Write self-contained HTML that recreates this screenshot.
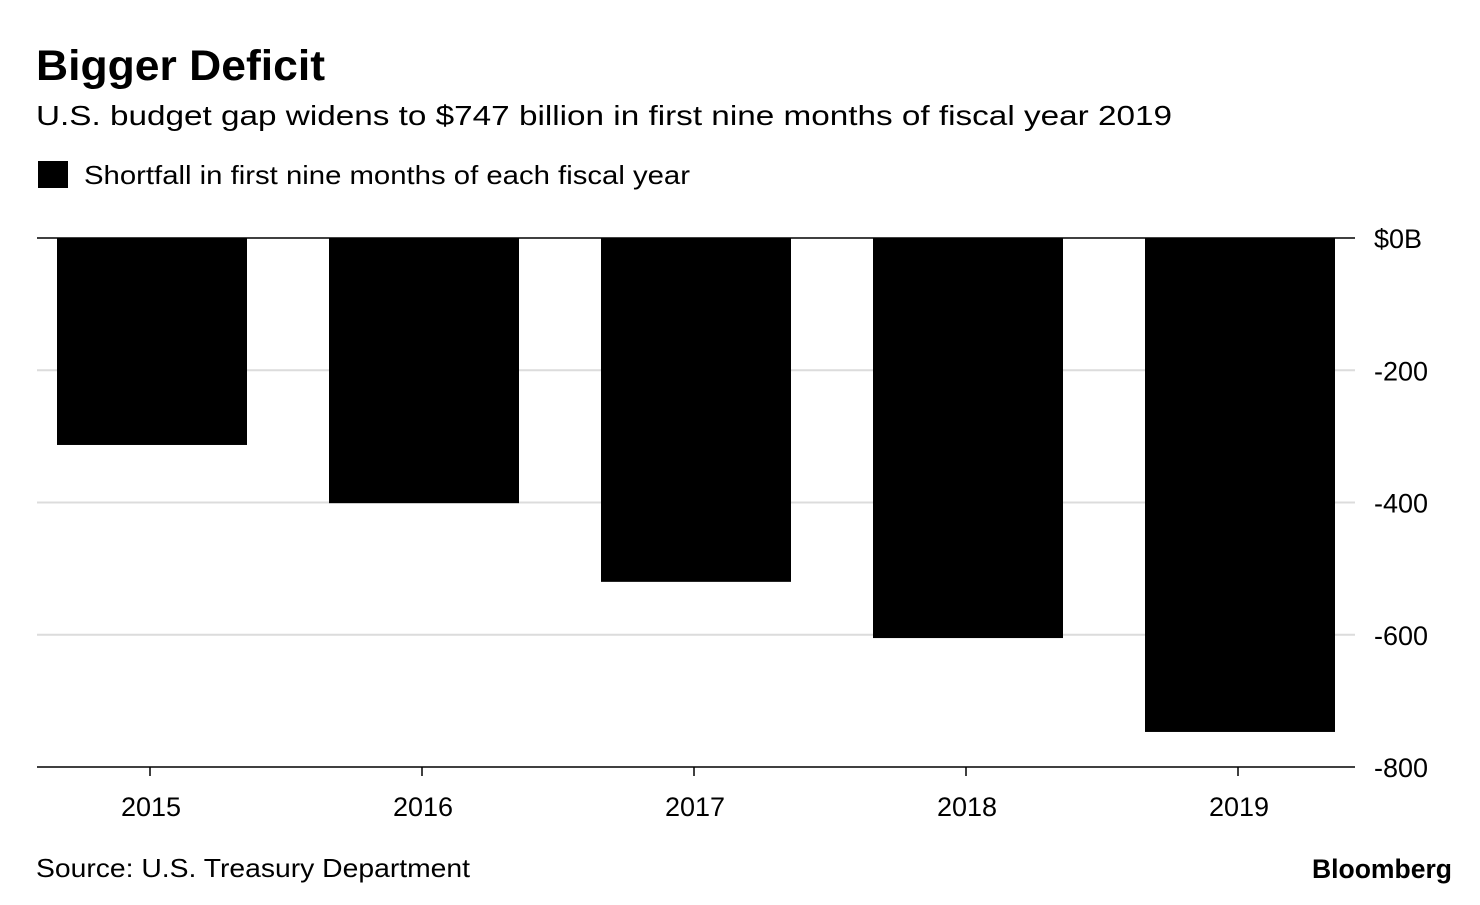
<!DOCTYPE html>
<html><head><meta charset="utf-8"><style>
body{margin:0;background:#fff;width:1480px;height:900px;overflow:hidden;font-family:"Liberation Sans",sans-serif;}
</style></head><body>
<svg width="1480" height="900" xmlns="http://www.w3.org/2000/svg">
<text x="36" y="80" font-size="43" font-weight="bold" fill="#000" textLength="289" lengthAdjust="spacingAndGlyphs">Bigger Deficit</text>
<text x="36" y="125" font-size="28" fill="#000" textLength="1136" lengthAdjust="spacingAndGlyphs">U.S. budget gap widens to $747 billion in first nine months of fiscal year 2019</text>
<rect x="38" y="161" width="30" height="27" fill="#000"/>
<text x="84" y="184" font-size="26" fill="#000" textLength="606" lengthAdjust="spacingAndGlyphs">Shortfall in first nine months of each fiscal year</text>
<g id="grid"></g><g id="bars"></g><g id="axes"></g>
<text x="36" y="877" font-size="26" fill="#000" textLength="434" lengthAdjust="spacingAndGlyphs">Source: U.S. Treasury Department</text>
<text x="1312" y="878" font-size="27" font-weight="bold" fill="#000" textLength="140" lengthAdjust="spacingAndGlyphs">Bloomberg</text>
</svg>
<script>
const categories=["2015","2016","2017","2018","2019"];
const values=[-313,-401,-520,-605,-747];
const yTicks=[0,-200,-400,-600,-800];
const yTickLabels=["$0B","-200","-400","-600","-800"];
const NS="http://www.w3.org/2000/svg";
const y0=238,y1=767,left=37,right=1355;
function yScale(v){return y0+(0-v)/800*(y1-y0);}
function xCenter(i){return 152+i*272;}
const barW=190;
function mk(tag,attrs,parent){const e=document.createElementNS(NS,tag);for(const k in attrs)e.setAttribute(k,attrs[k]);document.getElementById(parent).appendChild(e);return e;}
yTicks.forEach((t,i)=>{
  const y=yScale(t);
  if(t!==0&&t!==-800){const l=mk("line",{x1:left,x2:right,y1:y,y2:y,stroke:"#dcdcdc","stroke-width":2},"grid");
  
  }
  const tx=mk("text",{x:1374,y:y+10,"font-size":27,fill:"#000"},"axes");
  tx.textContent=yTickLabels[i];
  
  
});
values.forEach((v,i)=>{
  const r=mk("rect",{x:xCenter(i)-barW/2,y:yScale(0),width:barW,height:yScale(v)-yScale(0),fill:"#000"},"bars");
  
  
});
let zl=mk("line",{x1:left,x2:right,y1:y0,y2:y0,stroke:"#000","stroke-width":1.5},"axes");


let xa=mk("line",{x1:left,x2:right,y1:y1,y2:y1,stroke:"#000","stroke-width":1.5},"axes");


categories.forEach((c,i)=>{
  const x=xCenter(i)-2;
  const tk=mk("line",{x1:x,x2:x,y1:y1,y2:y1+9,stroke:"#000","stroke-width":1.5},"axes");
  
  
  const t=mk("text",{x:x+1,y:816,"font-size":27,"text-anchor":"middle",fill:"#000"},"axes");
  t.textContent=c;
  
  
});
</script>
</body></html>
